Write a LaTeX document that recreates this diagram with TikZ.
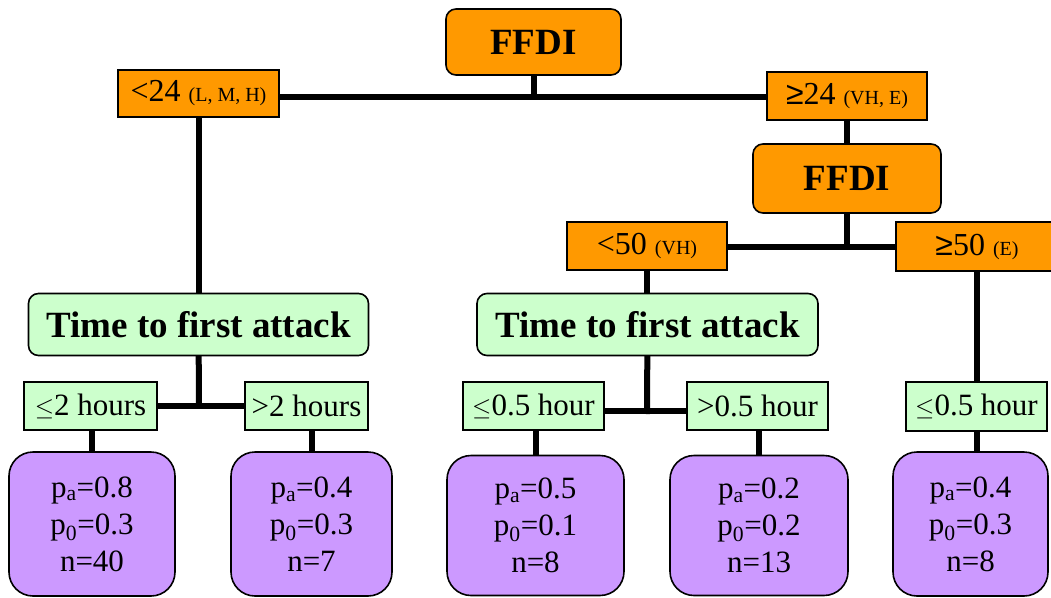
\documentclass[tikz,border=0pt]{standalone}
\usepackage{fontspec}
\setmainfont{Liberation Serif}
\newfontfamily\symsans{Liberation Sans}
\usetikzlibrary{backgrounds}
\definecolor{orng}{HTML}{FF9900}
\definecolor{grn}{HTML}{CCFFCC}
\definecolor{prpl}{HTML}{CC99FF}
\newcommand{\smallpar}[1]{{\fontsize{20}{22}\selectfont #1}}
\newcommand{\psub}[1]{p\textsubscript{#1}}
\begin{document}
\begin{tikzpicture}[x=1pt,y=-1pt,
  box/.style={draw=black,line width=1.6pt,inner sep=0pt,anchor=center},
  obox/.style={box,fill=orng,font=\fontsize{32}{36}\selectfont},
  ohead/.style={box,fill=orng,rounded corners=10pt,font=\fontsize{37}{40}\selectfont\bfseries},
  ghead/.style={box,fill=grn,rounded corners=10pt,font=\fontsize{37}{40}\selectfont\bfseries},
  gbox/.style={box,fill=grn,font=\fontsize{31}{36}\selectfont},
  pbox/.style={box,fill=prpl,rounded corners=24pt,align=center,font=\fontsize{31}{37}\selectfont},
  conn/.style={draw=black,line width=6pt,line cap=rect}]
\useasboundingbox (0,0) rectangle (1051,597);

% top level
\node[ohead,minimum width=175pt,minimum height=66pt] (ffdi1) at (533.5,42) {FFDI};
\node[obox,minimum width=161pt,minimum height=47pt] (lt24) at (198.5,93.5) {<24 \smallpar{(L, M, H)}};
\node[obox,minimum width=160pt,minimum height=48pt] (ge24) at (847,96) {{\symsans ≥}24 \smallpar{(VH, E)}};
\node[ohead,minimum width=188pt,minimum height=69pt] (ffdi2) at (847,178.5) {FFDI};
\node[obox,minimum width=160pt,minimum height=48pt] (lt50) at (647,246) {<50 \smallpar{(VH)}};
\node[obox,minimum width=162pt,minimum height=49pt] (ge50) at (977,246.5) {{\symsans ≥}50 \smallpar{(E)}};

% time to first attack
\node[ghead,minimum width=340pt,minimum height=62pt] (tta1) at (198.5,324.5) {Time to first attack};
\node[ghead,minimum width=341pt,minimum height=62pt] (tta2) at (647.5,324.5) {Time to first attack};

% hours
\node[gbox,minimum width=133pt,minimum height=48pt] (h1) at (90.5,406) {$\leq$2 hours};
\node[gbox,minimum width=123pt,minimum height=48pt] (h2) at (306.5,406) {>2 hours};
\node[gbox,minimum width=141pt,minimum height=48pt] (h3) at (533.5,406) {$\leq$0.5 hour};
\node[gbox,minimum width=141pt,minimum height=48pt] (h4) at (757.5,406) {>0.5 hour};
\node[gbox,minimum width=141pt,minimum height=49pt] (h5) at (976.5,406.5) {$\leq$0.5 hour};

% leaves
\node[pbox,minimum width=166pt,minimum height=144pt] (p1) at (92,524) {\psub{a}=0.8\\\psub{0}=0.3\\n=40};
\node[pbox,minimum width=161pt,minimum height=144pt] (p2) at (311.5,524) {\psub{a}=0.4\\\psub{0}=0.3\\n=7};
\node[pbox,minimum width=177pt,minimum height=140pt] (p3) at (535.5,525.5) {\psub{a}=0.5\\\psub{0}=0.1\\n=8};
\node[pbox,minimum width=178pt,minimum height=140pt] (p4) at (759,525.5) {\psub{a}=0.2\\\psub{0}=0.2\\n=13};
\node[pbox,minimum width=155pt,minimum height=144pt] (p5) at (970.5,524) {\psub{a}=0.4\\\psub{0}=0.3\\n=8};

\coordinate (j1) at (533.5,97);
\coordinate (j2) at (847,247);
\coordinate (j3) at (199,405.5);
\coordinate (j4) at (647,411);

\begin{scope}[on background layer]
\draw[conn] (ffdi1.center) -- (j1);
\draw[conn] (j1 -| lt24.center) -- (j1 -| ge24.center);
\draw[conn] (ge24.center) -- (ffdi2.center);
\draw[conn] (ffdi2.center) -- (j2);
\draw[conn] (j2 -| lt50.center) -- (j2 -| ge50.center);
\draw[conn] (lt24.center) -- (lt24.center |- tta1.center);
\draw[conn] (tta1.center) -- (j3);
\draw[conn] (j3 -| h1.center) -- (j3 -| h2.center);
\draw[conn] (p1.center |- h1.center) -- (p1.center);
\draw[conn] (p2.center |- h2.center) -- (p2.center);
\draw[conn] (lt50.center) -- (lt50.center |- tta2.center);
\draw[conn] (tta2.center) -- (j4);
\draw[conn] (j4 -| h3.center) -- (j4 -| h4.center);
\draw[conn] (p3.center |- h3.center) -- (p3.center);
\draw[conn] (p4.center |- h4.center) -- (p4.center);
\draw[conn] (ge50.center) -- (ge50.center |- h5.center);
\draw[conn] (h5.center) -- (h5.center |- p5.center);
\end{scope}
\end{tikzpicture}
\end{document}
